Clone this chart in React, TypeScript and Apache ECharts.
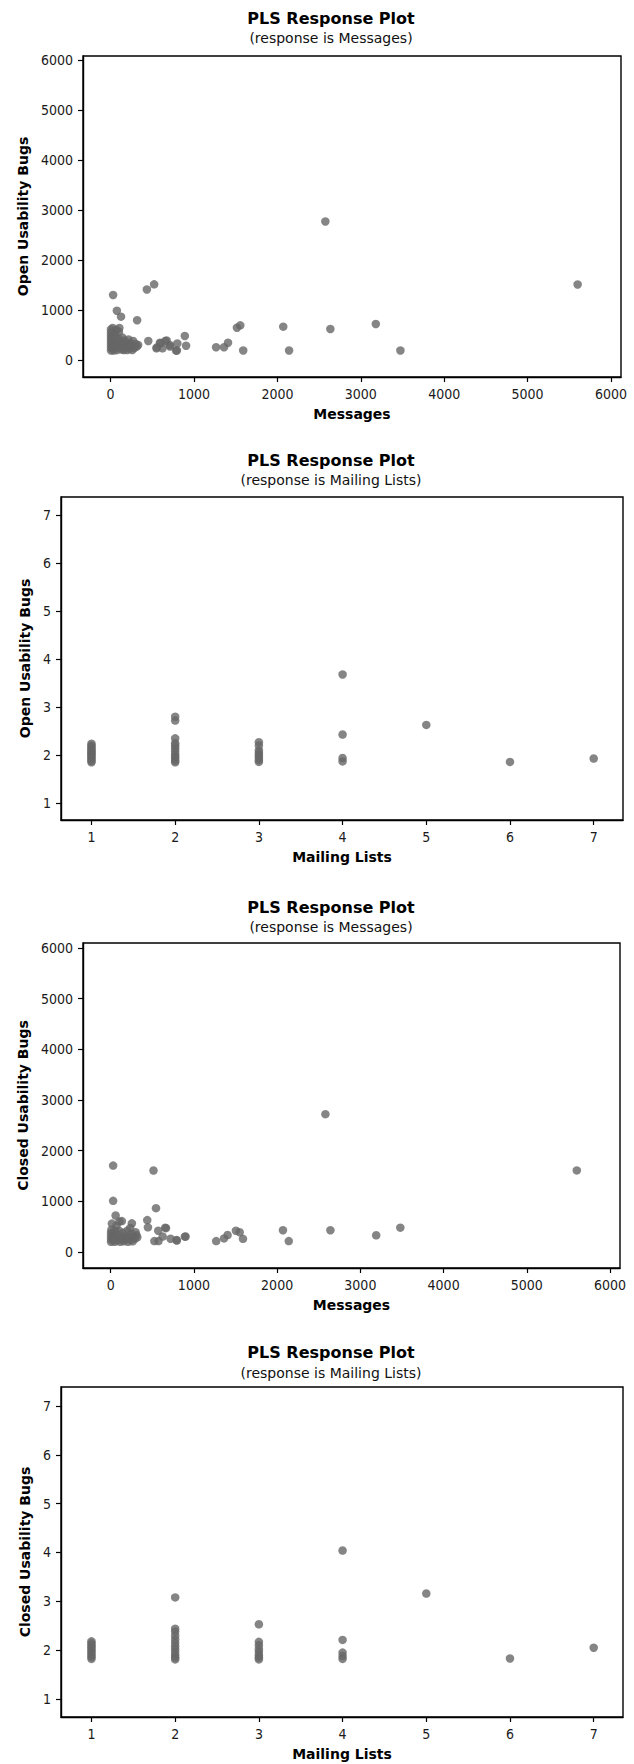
import React, { useEffect, useRef } from "react";
import * as echarts from "echarts";

// Panel 1: Open Usability Bugs vs Messages
const openMsgX = [2575, 5600, 30, 435, 522, 75, 125, 318, 1515, 1555, 2070, 2635, 3180, 3475, 2140, 1590, 1265, 1360, 1408, 890, 905, 795, 800, 452, 550, 672, 622, 712, 598, 555, 592, 656, 785, 710,
  5, 5, 5, 5, 5, 5, 5, 5, 20, 20, 20, 20, 25, 40, 40, 40, 45, 55, 60, 65, 70, 80, 85, 95, 100, 105, 115, 120, 135, 140, 150, 160, 165, 180, 190, 200, 210, 215, 230, 240, 250, 260, 270, 285, 300, 315, 330];
const openMsgY = [2770, 1510, 1300, 1410, 1513, 985, 867, 795, 645, 693, 667, 620, 720, 190, 190, 190, 255, 255, 345, 480, 285, 190, 330, 380, 233, 390, 233, 270, 333, 253, 347, 380, 187, 300,
  190, 250, 310, 370, 430, 490, 550, 610, 220, 280, 350, 460, 640, 190, 300, 410, 530, 240, 350, 470, 600, 200, 300, 420, 560, 640, 250, 360, 210, 450, 300, 200, 390, 260, 340, 200, 300, 410, 230, 330, 270, 200, 380, 240, 320, 270, 300];

// Panel 2: Open Usability Bugs vs Mailing Lists
const openMlX = [1, 1, 1, 1, 1, 1, 1, 1, 1, 1, 1, 1, 1,
  2, 2, 2, 2, 2, 2, 2, 2, 2, 2, 2, 2,
  3, 3, 3, 3, 3, 3, 3, 3,
  4, 4, 4, 4, 5, 6, 7];
const openMlY = [1.85, 1.88, 1.92, 1.95, 1.98, 2.01, 2.04, 2.07, 2.1, 2.13, 2.17, 2.2, 2.24,
  2.8, 2.72, 2.35, 2.25, 2.2, 2.14, 2.08, 2.02, 1.97, 1.93, 1.88, 1.85,
  2.27, 2.2, 2.1, 2.05, 2.0, 1.95, 1.9, 1.86,
  3.68, 2.43, 1.94, 1.87, 2.63, 1.86, 1.93];

// Panel 3: Closed Usability Bugs vs Messages
const closedMsgX = [2580, 5600, 30, 515, 30, 545, 2640, 2070, 3480, 3190, 2140, 1590, 1550, 1505, 1405, 1362, 1268, 900, 795, 720, 665, 625, 572, 575, 525, 440, 448, 656, 892, 792,
  60, 135, 255, 235, 5, 5, 5, 5, 10, 15, 25, 30, 35, 50, 55, 60, 70, 80, 90, 100, 105, 115, 125, 140, 150, 160, 175, 190, 200, 210, 225, 240, 250, 265, 275, 290, 300, 310, 320];
const closedMsgY = [2720, 1610, 1705, 1608, 1010, 865, 430, 430, 480, 330, 215, 260, 390, 420, 335, 268, 215, 305, 225, 262, 470, 305, 420, 215, 215, 630, 487, 480, 302, 237,
  720, 610, 565, 474, 200, 260, 320, 380, 440, 560, 230, 300, 360, 200, 420, 280, 520, 230, 340, 420, 600, 200, 300, 250, 380, 210, 320, 260, 420, 200, 300, 240, 360, 210, 300, 260, 390, 330, 290];

// Panel 4: Closed Usability Bugs vs Mailing Lists
const closedMlX = [1, 1, 1, 1, 1, 1, 1, 1, 1, 1,
  2, 2, 2, 2, 2, 2, 2, 2, 2, 2, 2, 2,
  3, 3, 3, 3, 3, 3, 3, 3,
  4, 4, 4, 4, 4, 5, 6, 7];
const closedMlY = [1.82, 1.86, 1.9, 1.94, 1.98, 2.02, 2.06, 2.1, 2.14, 2.18,
  3.08, 2.44, 2.38, 2.3, 2.22, 2.15, 2.08, 2.02, 1.96, 1.9, 1.85, 1.81,
  2.53, 2.17, 2.1, 2.02, 1.96, 1.9, 1.85, 1.81,
  4.04, 2.21, 1.95, 1.88, 1.82, 3.16, 1.83, 2.05];

const msgTicks = [0, 1000, 2000, 3000, 4000, 5000, 6000];
const mlTicks = [1, 2, 3, 4, 5, 6, 7];

const titleText = "PLS Response Plot";
const subtitles = ["(response is Messages)", "(response is Mailing Lists)", "(response is Messages)", "(response is Mailing Lists)"];
const xNames = ["Messages", "Mailing Lists", "Messages", "Mailing Lists"];
const yNames = ["Open Usability Bugs", "Open Usability Bugs", "Closed Usability Bugs", "Closed Usability Bugs"];

const FONT = "'DejaVu Sans', Verdana, sans-serif";
const TICK_FONT = "'DejaVu Sans Condensed', 'DejaVu Sans', sans-serif";
const DOT = "#666666";

export default function App() {
  const ref = useRef<HTMLDivElement>(null);
  useEffect(() => {
    if (!ref.current) return;
    const chart = echarts.init(ref.current, undefined, { renderer: "svg" });

    const grids = [
      { left: 83, top: 56, width: 538, height: 321 },
      { left: 61, top: 497, width: 562, height: 323 },
      { left: 83, top: 943, width: 537, height: 325 },
      { left: 61, top: 1387, width: 562, height: 330 },
    ];
    const xRanges = [[-331, 6120], [0.636, 7.35], [-332, 6119], [0.636, 7.35]];
    const yRanges = [[-340, 6080], [0.65, 7.375], [-316, 6099], [0.631, 7.389]];
    const xTickSets = [msgTicks, mlTicks, msgTicks, mlTicks];
    const yTickSets = [msgTicks, mlTicks, msgTicks, mlTicks];
    const yNameGaps = [46, 28, 47, 28];
    const titleY = [[18, 38], [460, 480], [907, 927], [1352, 1373]];
    const dataSets = [
      [openMsgX, openMsgY],
      [openMlX, openMlY],
      [closedMsgX, closedMsgY],
      [closedMlX, closedMlY],
    ];

    const axisCommon = (ticks: number[]) => ({
      type: "value" as const,
      axisLine: { show: true, onZero: false, lineStyle: { color: "#000", width: 1.4 } },
      axisTick: { show: true, inside: false, length: 5, customValues: ticks, lineStyle: { color: "#000", width: 1.2 } },
      axisLabel: {
        customValues: ticks,
        color: "#1a1a1a",
        fontSize: 14,
        fontFamily: TICK_FONT,
        margin: 10,
        formatter: (v: number) => String(v),
      },
      splitLine: { show: false },
    });

    const graphic: any[] = [];
    titleY.forEach(([t, s], i) => {
      graphic.push({
        type: "text", x: 331, y: t,
        style: { text: titleText, fontSize: 16, fontWeight: "bold", fontFamily: FONT, fill: "#000", align: "center", verticalAlign: "middle" },
      });
      graphic.push({
        type: "text", x: 331, y: s,
        style: { text: subtitles[i], fontSize: 14, fontFamily: FONT, fill: "#111", align: "center", verticalAlign: "middle" },
      });
    });

    chart.setOption({
      animation: false,
      backgroundColor: "#fff",
      grid: grids.map((g) => ({ ...g, show: true, borderColor: "#000", borderWidth: 1.4, backgroundColor: "transparent" })),
      xAxis: grids.map((_, i) => ({
        ...axisCommon(xTickSets[i]),
        gridIndex: i,
        min: xRanges[i][0],
        max: xRanges[i][1],
        name: xNames[i],
        nameLocation: "middle",
        nameGap: 30,
        nameTextStyle: { fontSize: 14, fontWeight: "bold", fontFamily: FONT, color: "#000" },
      })),
      yAxis: grids.map((_, i) => ({
        ...axisCommon(yTickSets[i]),
        gridIndex: i,
        min: yRanges[i][0],
        max: yRanges[i][1],
        name: yNames[i],
        nameLocation: "middle",
        nameGap: yNameGaps[i],
        nameTextStyle: { fontSize: 14, fontWeight: "bold", fontFamily: FONT, color: "#000" },
      })),
      series: dataSets.map(([xs, ys], i) => ({
        type: "scatter",
        xAxisIndex: i,
        yAxisIndex: i,
        symbol: "circle",
        symbolSize: 8.5,
        itemStyle: { color: DOT },
        data: xs.map((x, k) => [x, ys[k]]),
      })),
      graphic,
    });
    return () => chart.dispose();
  }, []);
  return <div ref={ref} style={{ position: "absolute", left: 0, top: 0, width: 634, height: 1764 }} />;
}
